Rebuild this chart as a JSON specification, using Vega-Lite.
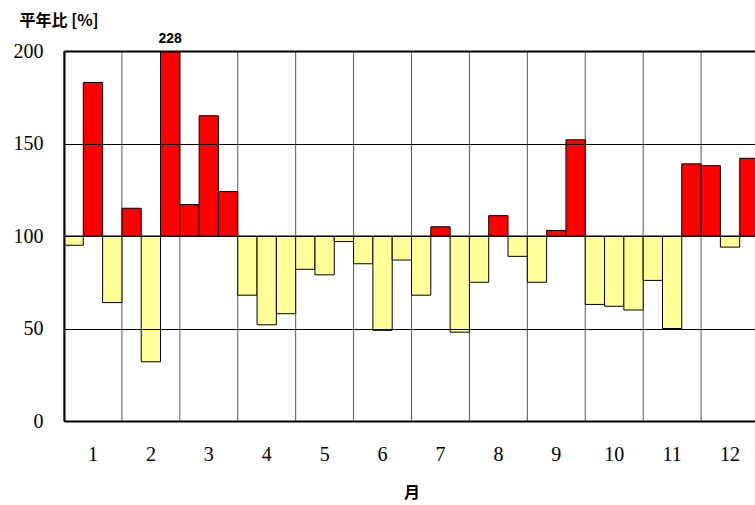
{
  "$schema": "https://vega.github.io/schema/vega-lite/v6.json",
  "width": 691,
  "height": 370,
  "autosize": {"type": "none"},
  "padding": {"left": 64, "top": 51, "right": 0, "bottom": 84},
  "background": "white",
  "config": {"view": {"stroke": null}},
  "data": {
    "values": [
      {"month": 1, "dekad": 1, "value": 95},
      {"month": 1, "dekad": 2, "value": 183},
      {"month": 1, "dekad": 3, "value": 64},
      {"month": 2, "dekad": 1, "value": 115},
      {"month": 2, "dekad": 2, "value": 32},
      {"month": 2, "dekad": 3, "value": 228},
      {"month": 3, "dekad": 1, "value": 117},
      {"month": 3, "dekad": 2, "value": 165},
      {"month": 3, "dekad": 3, "value": 124},
      {"month": 4, "dekad": 1, "value": 68},
      {"month": 4, "dekad": 2, "value": 52},
      {"month": 4, "dekad": 3, "value": 58},
      {"month": 5, "dekad": 1, "value": 82},
      {"month": 5, "dekad": 2, "value": 79},
      {"month": 5, "dekad": 3, "value": 97},
      {"month": 6, "dekad": 1, "value": 85},
      {"month": 6, "dekad": 2, "value": 49},
      {"month": 6, "dekad": 3, "value": 87},
      {"month": 7, "dekad": 1, "value": 68},
      {"month": 7, "dekad": 2, "value": 105},
      {"month": 7, "dekad": 3, "value": 48},
      {"month": 8, "dekad": 1, "value": 75},
      {"month": 8, "dekad": 2, "value": 111},
      {"month": 8, "dekad": 3, "value": 89},
      {"month": 9, "dekad": 1, "value": 75},
      {"month": 9, "dekad": 2, "value": 103},
      {"month": 9, "dekad": 3, "value": 152},
      {"month": 10, "dekad": 1, "value": 63},
      {"month": 10, "dekad": 2, "value": 62},
      {"month": 10, "dekad": 3, "value": 60},
      {"month": 11, "dekad": 1, "value": 76},
      {"month": 11, "dekad": 2, "value": 50},
      {"month": 11, "dekad": 3, "value": 139},
      {"month": 12, "dekad": 1, "value": 138},
      {"month": 12, "dekad": 2, "value": 94},
      {"month": 12, "dekad": 3, "value": 142}
    ]
  },
  "encoding": {
    "x": {
      "field": "month",
      "type": "ordinal",
      "scale": {"paddingInner": 0, "paddingOuter": 0, "range": [0, 695]},
      "axis": {
        "labelAngle": 0,
        "labelFont": "Liberation Serif",
        "labelFontSize": 20,
        "labelColor": "black",
        "labelPadding": 23,
        "ticks": false,
        "grid": false,
        "domainColor": "black",
        "domainWidth": 2,
        "title": "月",
        "titleFont": "Noto Sans CJK JP",
        "titleFontSize": 16,
        "titleFontWeight": "bold",
        "titleColor": "black",
        "titlePadding": 20,
        "zindex": 1
      }
    }
  },
  "layer": [
    {
      "transform": [{"filter": "datum.dekad == 1"}],
      "mark": {"type": "rule", "color": "#555555", "strokeWidth": 1},
      "encoding": {
        "x": {"field": "month", "type": "ordinal", "bandPosition": 0}
      }
    },
    {
      "mark": {"type": "bar", "stroke": "black", "strokeWidth": 1, "clip": true},
      "encoding": {
        "xOffset": {
          "field": "dekad",
          "type": "ordinal",
          "scale": {"paddingInner": 0, "paddingOuter": 0}
        },
        "y": {
          "field": "value",
          "type": "quantitative",
          "scale": {"domain": [0, 200], "clamp": true, "nice": false},
          "axis": {
            "values": [0, 50, 100, 150, 200],
            "grid": true,
            "gridColor": "black",
            "gridOpacity": 1,
            "gridWidth": {"condition": {"test": "datum.value == 200", "value": 2}, "value": 1},
            "ticks": false,
            "labelFont": "Liberation Serif",
            "labelFontSize": 20,
            "labelColor": "black",
            "labelPadding": 21,
            "domainColor": "black",
            "domainWidth": 2,
            "title": "平年比 [%]",
            "titleFont": "Noto Sans CJK JP",
            "titleFontSize": 16,
            "titleFontWeight": "bold",
            "titleColor": "black",
            "titleAngle": 0,
            "titleAlign": "left",
            "titleBaseline": "middle",
            "titleX": -45,
            "titleY": -31,
            "zindex": 1
          }
        },
        "y2": {"datum": 100},
        "fill": {
          "condition": {"test": "datum.value > 100", "value": "#ff0000"},
          "value": "#ffff99"
        }
      }
    },
    {
      "transform": [{"filter": "datum.value > 200"}],
      "mark": {"type": "text", "baseline": "bottom", "dy": -5, "font": "Liberation Sans", "fontSize": 14, "fontWeight": "bold", "color": "black"},
      "encoding": {
        "xOffset": {"field": "dekad", "type": "ordinal", "scale": {"paddingInner": 0, "paddingOuter": 0}},
        "y": {"datum": 200},
        "text": {"field": "value", "type": "quantitative"}
      }
    }
  ]
}
